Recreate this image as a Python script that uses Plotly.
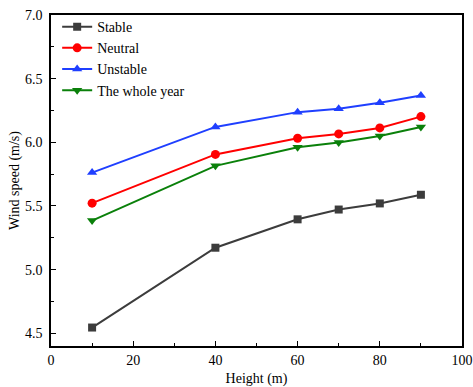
import plotly.graph_objects as go

heights = [10, 40, 60, 70, 80, 90]
stable = [4.545, 5.172, 5.395, 5.472, 5.52, 5.588]
neutral = [5.522, 5.905, 6.032, 6.066, 6.113, 6.202]
unstable = [5.762, 6.121, 6.237, 6.263, 6.31, 6.367]
whole_year = [5.385, 5.815, 5.962, 5.998, 6.05, 6.12]

series = [
    ("Stable", stable, "#3c3c3c", "square"),
    ("Neutral", neutral, "#ff0000", "circle"),
    ("Unstable", unstable, "#1f3fff", "triangle-up"),
    ("The whole year", whole_year, "#0a800a", "triangle-down"),
]

font = "Liberation Serif"
fig = go.Figure()
for name, vals, col, sym in series:
    fig.add_trace(go.Scatter(
        x=heights, y=vals, name=name, mode="lines+markers",
        line=dict(color=col, width=2),
        marker=dict(symbol=sym, size=9 if sym != "square" else 8, color=col),
    ))

axis_common = dict(
    showline=True, linecolor="black", linewidth=1.5, mirror=True,
    ticks="inside", ticklen=5, tickwidth=1, tickcolor="black",
    showgrid=False, zeroline=False, automargin=False,
    tickfont=dict(family=font, size=14, color="black"),
)
fig.update_xaxes(
    range=[0, 100], dtick=20, tick0=0,
    minor=dict(ticks="inside", ticklen=3, dtick=10, tickcolor="black"),
    title=dict(text="Height (m)", font=dict(family=font, size=14, color="black"), standoff=11),
    **axis_common,
)
fig.update_yaxes(
    range=[4.4, 7.0], dtick=0.5, tick0=4.5, tickformat=".1f",
    minor=dict(ticks="inside", ticklen=3, dtick=0.25, tickcolor="black"),
    title=dict(text="Wind speed (m/s)", font=dict(family=font, size=14, color="black"), standoff=2),
    ticklabelstandoff=4,
    **axis_common,
)
fig.update_layout(
    width=473, height=387,
    margin=dict(l=51, r=11, t=15, b=41),
    paper_bgcolor="white", plot_bgcolor="white",
    font=dict(family=font, size=14, color="black"),
    legend=dict(x=0.015, y=1.012, xanchor="left", yanchor="top",
                bgcolor="rgba(0,0,0,0)", font=dict(family=font, size=14),
                tracegroupgap=0, itemwidth=30),
    showlegend=True,
)
fig.write_html("out.html")
